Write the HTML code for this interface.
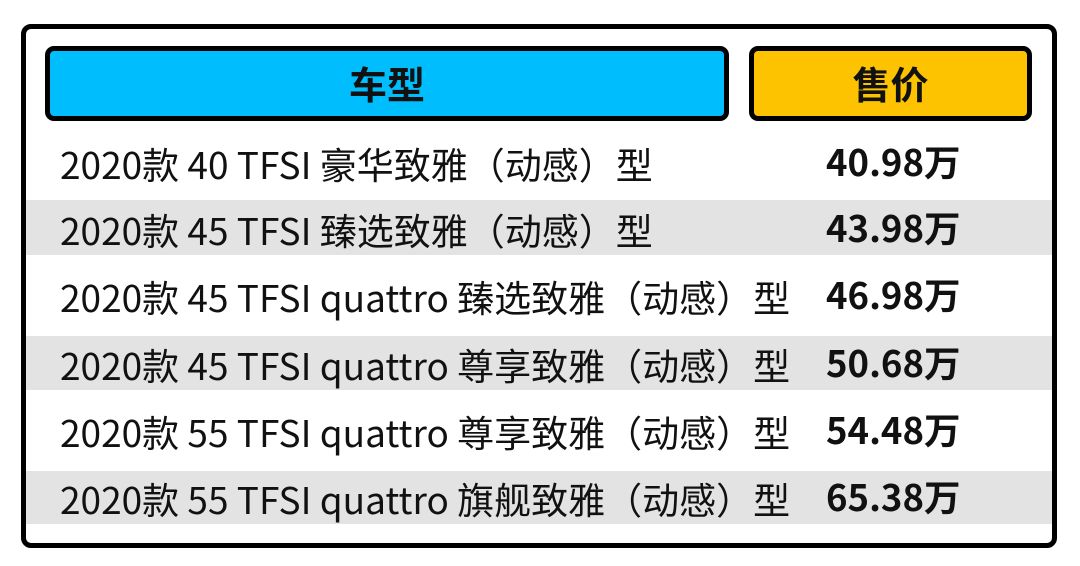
<!DOCTYPE html>
<html><head><meta charset="utf-8"><style>
body{margin:0;width:1080px;height:566px;background:#fff;position:relative;overflow:hidden;font-family:"Noto Sans CJK SC","Liberation Sans",sans-serif;}
.outer{position:absolute;left:21px;top:24px;width:1026px;height:514px;border:5px solid #000;border-radius:10px;}
.hd{position:absolute;top:46px;height:65px;border:5px solid #000;border-radius:9px;font-weight:bold;font-size:38px;line-height:63px;text-align:center;color:#111;}
.band{position:absolute;left:26px;width:1026px;background:#e3e3e3;}
.t{position:absolute;left:60px;font-size:37px;color:#111;line-height:40px;white-space:nowrap;}
.p{position:absolute;left:826px;font-size:36.5px;font-weight:bold;color:#111;line-height:40px;white-space:nowrap;}
</style></head><body>
<div class="band" style="top:200px;height:55px"></div>
<div class="band" style="top:336px;height:54px"></div>
<div class="band" style="top:471px;height:53px"></div>
<div class="outer"></div>
<div class="hd" style="left:45px;width:674px;background:#00bdfd">车型</div>
<div class="hd" style="left:749px;width:273px;background:#fdc300">售价</div>
<div class="t" style="top:143px">2020款 40 TFSI 豪华致雅（动感）型</div><div class="p" style="top:141px">40.98万</div>
<div class="t" style="top:209px">2020款 45 TFSI 臻选致雅（动感）型</div><div class="p" style="top:207px">43.98万</div>
<div class="t" style="top:276px">2020款 45 TFSI quattro 臻选致雅（动感）型</div><div class="p" style="top:274px">46.98万</div>
<div class="t" style="top:344px">2020款 45 TFSI quattro 尊享致雅（动感）型</div><div class="p" style="top:342px">50.68万</div>
<div class="t" style="top:411px">2020款 55 TFSI quattro 尊享致雅（动感）型</div><div class="p" style="top:409px">54.48万</div>
<div class="t" style="top:478px">2020款 55 TFSI quattro 旗舰致雅（动感）型</div><div class="p" style="top:476px">65.38万</div>
</body></html>
